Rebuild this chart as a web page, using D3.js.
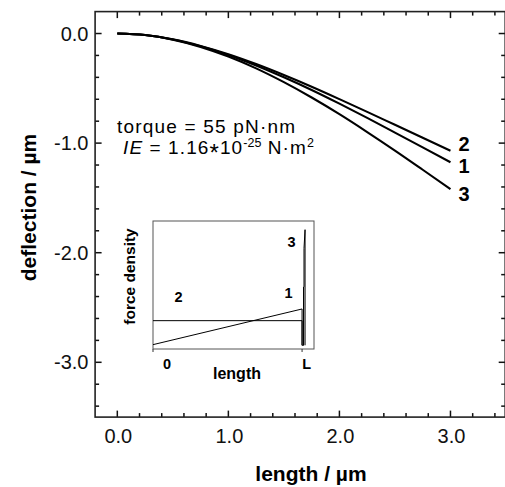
<!DOCTYPE html>
<html>
<head>
<meta charset="utf-8">
<script src="https://cdn.jsdelivr.net/npm/d3@7"></script>
<style>
  body { margin: 0; background: #fff; }
  svg { display: block; font-family: "Liberation Sans", Arial, Helvetica, sans-serif; }
</style>
</head>
<body>
<svg id="chart" width="505" height="487"></svg>
<script>
// deflection of the beam for three force distributions
const lengthUm = [0, 0.25, 0.5, 0.75, 1.0, 1.25, 1.5, 1.75, 2.0, 2.25, 2.5, 2.75, 3.0]
const deflection1 = [0, -0.014, -0.054, -0.116, -0.195, -0.291, -0.399, -0.515, -0.640, -0.770, -0.904, -1.039, -1.175]
const deflection2 = [0, -0.014, -0.053, -0.113, -0.189, -0.279, -0.379, -0.486, -0.599, -0.715, -0.833, -0.951, -1.070]
const deflection3 = [0, -0.014, -0.056, -0.122, -0.210, -0.318, -0.444, -0.584, -0.736, -0.899, -1.068, -1.243, -1.420]
const curveNames = ["1", "2", "3"]

const xTicks = [0, 1, 2, 3]
const yTicks = [0, -1, -2, -3]

// inset : force density along the beam (0 .. L)
const insetX1 = [0, 1, 1, 1.01, 1.01, 1.01]
const insetLoad1 = [0.005, 0.292, 0, 0, 0.47, 0]
const insetX2 = [0, 1, 1]
const insetLoad2 = [0.198, 0.198, 0]
const insetX3 = [1.02, 1.02, 1.013, 1.013]
const insetLoad3 = [0, 0.93, 0.78, 0.47]
const insetTicks = [0, 1]
const insetTickLabels = ["0", "L"]

const svg = d3.select("#chart")
svg.append("rect").attr("width", 505).attr("height", 487).attr("fill", "#fff")

const x = d3.scaleLinear().domain([-0.2, 3.5]).range([95.1, 506])
const y = d3.scaleLinear().domain([0.2, -3.5]).range([11.6, 417.1])

const x0 = x.range()[0], x1 = x.range()[1] - 0.8, y0 = y.range()[0], y1 = y.range()[1]

const minorX = d3.range(0, 35, 2).map(i => i / 10)
const minorY = d3.range(-34, 1, 2).map(i => i / 10)
const fmt = d => d3.format(".1f")(d).replace("−", "-")

// ticks, all pointing inward
const tickG = svg.append("g").attr("stroke", "#111").attr("stroke-width", 1.5)
const tickLen = d => (xTicks.includes(d) || yTicks.includes(d)) ? 6.5 : 4

tickG.selectAll(".tb").data(minorX).join("line").attr("class", "tb")
    .attr("x1", d => x(d)).attr("x2", d => x(d))
    .attr("y1", y1).attr("y2", d => y1 - tickLen(d))
tickG.selectAll(".tt").data(minorX).join("line").attr("class", "tt")
    .attr("x1", d => x(d)).attr("x2", d => x(d))
    .attr("y1", y0).attr("y2", d => y0 + tickLen(d))
tickG.selectAll(".tl").data(minorY).join("line").attr("class", "tl")
    .attr("y1", d => y(d)).attr("y2", d => y(d))
    .attr("x1", x0).attr("x2", d => x0 + tickLen(d))
tickG.selectAll(".tr").data(minorY).join("line").attr("class", "tr")
    .attr("y1", d => y(d)).attr("y2", d => y(d))
    .attr("x1", x1).attr("x2", d => x1 - tickLen(d))

// tick labels
svg.append("g").selectAll("text").data(xTicks).join("text")
    .attr("x", d => x(d) + 1).attr("y", 443)
    .attr("text-anchor", "middle").attr("font-size", 20).attr("fill", "#111")
    .text(fmt)
svg.append("g").selectAll("text").data(yTicks).join("text")
    .attr("x", 88.5).attr("y", d => y(d) + 7)
    .attr("text-anchor", "end").attr("font-size", 20).attr("fill", "#111")
    .text(fmt)

// frame
svg.append("rect")
    .attr("x", x0).attr("y", y0)
    .attr("width", x1 - x0).attr("height", y1 - y0)
    .attr("fill", "none").attr("stroke", "#222").attr("stroke-width", 1.6)

// curves
const series = [deflection1, deflection2, deflection3].map((vals, i) => ({
    name: curveNames[i],
    points: lengthUm.map((l, j) => [l, vals[j]])
}))

const line = d3.line().x(d => x(d[0])).y(d => y(d[1])).curve(d3.curveMonotoneX)

svg.append("g").selectAll("path")
    .data(series)
    .join("path")
    .attr("d", d => line(d.points))
    .attr("fill", "none")
    .attr("stroke", "#000")
    .attr("stroke-width", 2.1)

const labelDy = {"1": 10.5, "2": 0, "3": 12}
svg.append("g").selectAll("text")
    .data(series)
    .join("text")
    .attr("x", d => x(d.points[d.points.length - 1][0]) + 8)
    .attr("y", d => y(d.points[d.points.length - 1][1]) + labelDy[d.name])
    .attr("font-size", 20).attr("font-weight", "bold")
    .text(d => d.name)

// annotation
svg.append("text")
    .attr("x", 117).attr("y", 133.3)
    .attr("font-size", 19).attr("letter-spacing", 1.2)
    .text("torque = 55 pN·nm")

const ie = svg.append("text").attr("x", 123).attr("y", 154).attr("font-size", 19).attr("letter-spacing", 1.1)
ie.append("tspan").attr("font-style", "italic").text("IE")
ie.append("tspan").text(" = 1.16")
ie.append("tspan").attr("font-size", 24).attr("dy", 7).text("*")
ie.append("tspan").attr("dy", -7).text("10")
ie.append("tspan").attr("font-size", 12.5).attr("dy", -7).attr("letter-spacing", 0).text("-25")
ie.append("tspan").attr("dy", 7).text(" N·m")
ie.append("tspan").attr("font-size", 12.5).attr("dy", -7).text("2")

// axis titles
svg.append("text")
    .attr("x", 311).attr("y", 480.7)
    .attr("text-anchor", "middle")
    .attr("font-size", 21).attr("font-weight", "bold")
    .text("length / µm")

svg.append("text")
    .attr("transform", "translate(35.5,207.5) rotate(-90)")
    .attr("text-anchor", "middle")
    .attr("font-size", 21).attr("font-weight", "bold")
    .text("deflection / µm")

// ---------- inset ----------
const ix = d3.scaleLinear().domain([0, 1.08]).range([153, 314])
const iy = d3.scaleLinear().domain([-0.03, 1]).range([349, 221])

const inset = svg.append("g")

inset.append("rect")
    .attr("x", ix.range()[0]).attr("y", iy.range()[1])
    .attr("width", ix.range()[1] - ix.range()[0])
    .attr("height", iy.range()[0] - iy.range()[1])
    .attr("fill", "#fff").attr("stroke", "#555").attr("stroke-width", 1)

inset.append("g").selectAll("line").data(insetTicks).join("line")
    .attr("x1", d => ix(d)).attr("x2", d => ix(d))
    .attr("y1", iy.range()[0]).attr("y2", iy.range()[0] + 3)
    .attr("stroke", "#333")

const insetSeries = [
    insetX1.map((v, i) => [v, insetLoad1[i]]),
    insetX2.map((v, i) => [v, insetLoad2[i]]),
    insetX3.map((v, i) => [v, insetLoad3[i]])
]
const iline = d3.line().x(d => ix(d[0])).y(d => iy(d[1]))

inset.append("g").selectAll("path")
    .data(insetSeries)
    .join("path")
    .attr("d", iline)
    .attr("fill", "none")
    .attr("stroke", "#000")
    .attr("stroke-width", 1)

const insetLabelDx = [14, 4.5]
inset.append("g").selectAll("text")
    .data(insetTicks)
    .join("text")
    .attr("x", (d, i) => ix(d) + insetLabelDx[i])
    .attr("y", 368.5)
    .attr("text-anchor", "middle")
    .attr("font-size", 14.5).attr("font-weight", "bold")
    .text((d, i) => insetTickLabels[i])

inset.append("text")
    .attr("x", 237).attr("y", 379)
    .attr("text-anchor", "middle")
    .attr("font-size", 16).attr("font-weight", "bold")
    .text("length")

inset.append("text")
    .attr("transform", "translate(134.5,276.5) rotate(-90)")
    .attr("text-anchor", "middle")
    .attr("font-size", 15.5).attr("font-weight", "bold")
    .text("force density")

const insetNames = [["2", 178.5, 302], ["1", 288.5, 298], ["3", 291.5, 247]]
inset.append("g").selectAll("text")
    .data(insetNames)
    .join("text")
    .attr("x", d => d[1]).attr("y", d => d[2])
    .attr("text-anchor", "middle")
    .attr("font-size", 14.5).attr("font-weight", "bold")
    .text(d => d[0])
</script>
</body>
</html>
